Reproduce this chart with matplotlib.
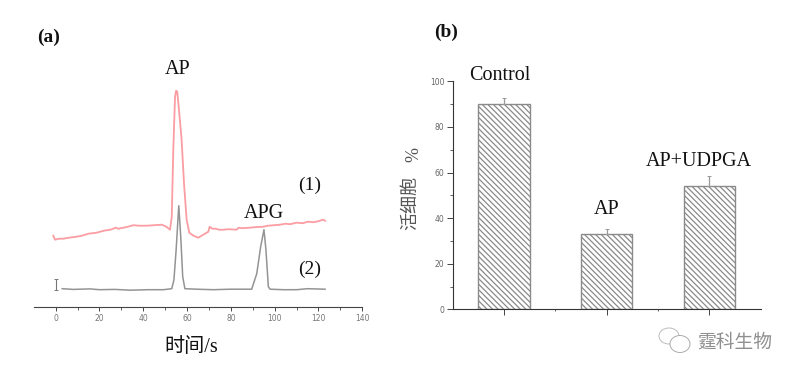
import matplotlib
matplotlib.use('Agg')
import matplotlib.pyplot as plt
from matplotlib.patches import Ellipse
from matplotlib.ticker import MultipleLocator

W = 798
H = 376

# trace values (time in s, signal in arbitrary units)
red_t = [-1.1, -0.3, 1.5, 3.5, 6, 9.6, 12, 15, 18.7, 22, 25, 27.5, 28.5, 31, 33, 35.5, 38, 41.5,
         45, 48.4, 50.5, 52.2, 53, 53.7, 54.5, 55, 55.5, 56.3, 57.5, 58.6, 59.8, 61, 62.9, 65.1,
         67.4, 69.7, 70.3, 71.5, 73, 74.5, 76.6, 79, 82.6, 83.5, 85, 88.7, 91, 94.8, 97, 102.4,
         105, 107, 110, 113, 115, 117.7, 120, 122, 123]
red_y = [71, 67, 68, 68, 69, 70, 71, 73, 74, 76, 77, 79, 78, 79, 80, 81.5, 81, 81,
         81.5, 82, 80, 77, 90, 157, 210, 216, 215, 197, 167, 123, 87, 74, 71, 69,
         72, 75, 80, 78, 78, 77, 77, 77.5, 77, 79, 78.5, 79, 79.5, 80, 81, 82,
         83, 82.5, 84, 83.5, 85, 84.5, 85.5, 87, 86]
gray_t = [3, 8, 15.7, 20, 27, 34, 42, 49.2, 53, 54, 55, 56.2, 57.1, 58, 59, 64.4, 72, 79.6,
          89.5, 91.8, 93.6, 95.1, 96, 97.1, 97.9, 104, 110, 115, 123]
gray_y = [18, 17.3, 17.8, 17, 17.3, 16.5, 17, 17, 18, 27, 57, 101, 70, 30, 18, 17.5, 17, 17.5,
          17.5, 33, 60, 77, 57, 20, 17.5, 17, 17, 18, 17.5]
mark_t = [0]
mark_y = [22]
mark_err = [5.5]

# bar values
groups = ['Control', 'AP', 'AP+UDPGA']
viability = [90, 33, 54]
errors = [2.5, 2.3, 4.4]
bar_pos = [1, 2, 3]
bar_gaps = [1.5, 2.5]

serif = ['Liberation Serif', 'Noto Sans CJK SC']
plt.rcParams['hatch.linewidth'] = 0.9
plt.rcParams['hatch.color'] = '#858585'

fig = plt.figure(figsize=(W / 100, H / 100), dpi=100)

# panel a
ax1 = fig.add_axes([34 / W, 1 - 306.7 / H, (362.3 - 34) / W, 240 / H])
ax1.plot(red_t, red_y, color='#fb9da2', lw=1.3)
ax1.plot(gray_t, gray_y, color='#949494', lw=1.1)
ax1.errorbar(mark_t, mark_y, yerr=mark_err, color='#777777', lw=0.8, capsize=1.5, capthick=0.7)
ax1.set_xlim(-9.9, 140)
ax1.set_ylim(0, 240)
for s in ['left', 'right', 'top']:
    ax1.spines[s].set_visible(False)
ax1.spines['bottom'].set_color('#444444')
ax1.set_yticks([])
ax1.xaxis.set_major_locator(MultipleLocator(20))
ax1.xaxis.set_minor_locator(MultipleLocator(10))
ax1.tick_params(axis='x', which='major', length=3, width=0.7, color='#444444',
                labelsize=5.5, labelcolor='#777777', pad=2)
ax1.tick_params(axis='x', which='minor', length=2, width=0.6, color='#444444')

# panel b
ax2 = fig.add_axes([452.7 / W, 1 - 309.3 / H, 308 / W, 228 / H])
ax2.bar(bar_pos, viability, width=0.5, facecolor='white', edgecolor='#8a8a8a',
        hatch='\\\\\\\\\\\\', lw=1.0)
ax2.errorbar(bar_pos, viability, yerr=[[0, 0, 0], errors], fmt='none', ecolor='#999999',
             elinewidth=0.9, capsize=1.5, capthick=0.7)
ax2.set_xlim(0.5, 3.5)
ax2.set_ylim(0, 100)
ax2.spines['right'].set_visible(False)
ax2.spines['top'].set_visible(False)
ax2.spines['left'].set_color('#333333')
ax2.spines['bottom'].set_color('#333333')
ax2.set_xticks(bar_pos)
ax2.set_xticklabels([])
ax2.set_xticks(bar_gaps, minor=True)
ax2.yaxis.set_major_locator(MultipleLocator(20))
ax2.yaxis.set_minor_locator(MultipleLocator(10))
ax2.tick_params(axis='both', which='major', length=4, width=0.7, color='#444444',
                labelsize=5.5, labelcolor='#666666', pad=2)
ax2.tick_params(axis='both', which='minor', length=2, width=0.6, color='#444444')
ax2.xaxis.set_tick_params(which='minor', length=1.5)

# overlay in pixels for the labels and the watermark
ov = fig.add_axes([0, 0, 1, 1])
ov.set_xlim(0, W)
ov.set_ylim(H, 0)
ov.axis('off')
ov.patch.set_alpha(0)


def label(x, y, s, size=14.5, **kw):
    ov.text(x, y, s, family=serif, fontsize=size, ha='center', va='center', color='#111111', **kw)


label(49, 37, '(a)', size=14, fontweight='bold')
label(446, 32, '(b)', size=14, fontweight='bold')
label(178, 70, 'AP')
label(264, 213, 'APG')
label(310, 185, '(1)', size=14)
label(310, 269, '(2)', size=14)
label(191, 347, '时间/s')
label(500, 75, 'Control')
label(607, 209, 'AP')
label(699, 161, 'AP+UDPGA')
ov.text(411, 203, '活细胞', family=serif, fontsize=13, rotation=90, ha='center', va='center', color='#555555')
ov.text(414, 154, '%', family=serif, fontsize=13, rotation=90, ha='center', va='center', color='#555555')

ov.add_patch(Ellipse((669, 336), 20, 16, fc='none', ec='#bbbbbb', lw=0.7))
ov.add_patch(Ellipse((680, 344), 20, 17, fc='white', ec='#aaaaaa', lw=0.7))
ov.text(735, 342, '霆科生物', family=['Noto Sans CJK SC', 'DejaVu Sans'], fontsize=13.5,
        ha='center', va='center', color='#8f8f8f')

fig.savefig('out.png', dpi=100)
